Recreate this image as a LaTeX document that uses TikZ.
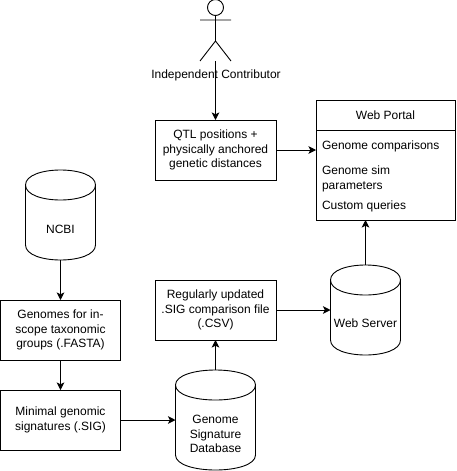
\documentclass[tikz,border=0pt]{standalone}
\usepackage{fontspec}
\setmainfont{Liberation Sans}
\usetikzlibrary{arrows.meta}
\tikzset{
  every node/.style={font=\fontsize{12}{14.4}\selectfont},
  lbl/.style={align=center,inner sep=0pt,outer sep=0pt},
  leftlbl/.style={align=left,inner sep=0pt,outer sep=0pt,anchor=west},
  boxn/.style={draw=black,line width=0.9pt,minimum width=#1,minimum height=60pt,inner sep=0pt,outer sep=0pt,align=center},
  lowered/.style={execute at begin node={\rule{0pt}{12.5pt}}},
  link/.style={line width=0.9pt,-{Stealth[length=7.5pt,width=7.5pt,inset=1.8pt]}},
  stroke/.style={line width=0.9pt,draw=black},
  anchorbox/.style={inner sep=0pt,outer sep=0pt,minimum width=#1},
}
% name, x, y, w, h, text, text centre y
\newcommand{\cylnode}[7]{%
  \draw[stroke] (#2,#3+15) .. controls (#2,#3-5) and (#2+#4,#3-5) .. (#2+#4,#3+15)
     -- (#2+#4,#3+#5-15) .. controls (#2+#4,#3+#5+5) and (#2,#3+#5+5) .. (#2,#3+#5-15) -- cycle;
  \draw[stroke] (#2,#3+15) .. controls (#2,#3+35) and (#2+#4,#3+35) .. (#2+#4,#3+15);
  \node[anchorbox=#4 pt,minimum height=#5 pt] (#1) at (#2+#4/2,#3+#5/2) {};
  \node[lbl] (#1t) at (#2+#4/2,#7) {#6};
}
\begin{document}
\begin{tikzpicture}[x=1pt,y=-1pt]
\useasboundingbox (0,0) rectangle (456,471);
% actor
\node[stroke,draw,circle,minimum size=16pt,inner sep=0pt,outer sep=0pt] (head) at (215.5,7.5) {};
\node[anchorbox=31pt,minimum height=46pt] (actor) at (215.5,38) {};
\coordinate (hip) at (215.5,41);
\coordinate (armL) at (200,20);
\coordinate (armR) at (231,20);
\coordinate (legL) at (200,61);
\coordinate (legR) at (231,61);
\draw[stroke] (head.south) -- (hip) (armL) -- (armR) (legL) -- (hip) -- (legR);
\node[lbl] (actorlabel) at (216,75) {Independent Contributor};
% boxes
\node[boxn=121pt,lowered] (qtl) at (215.5,150) {QTL positions +\\physically anchored\\genetic distances};
\node[boxn=121pt,lowered] (sigfile) at (215.5,310) {Regularly updated\\.SIG comparison file\\(.CSV)};
\node[boxn=120pt,lowered] (genomes) at (60.5,330) {Genomes for in-\\scope taxonomic\\groups (.FASTA)};
\node[boxn=120pt,lowered] (minimal) at (60.5,420) {Minimal genomic\\signatures (.SIG)};
% portal
\node[boxn=139pt,minimum height=120pt] (portal) at (385.5,160) {};
\node[boxn=139pt,minimum height=30pt] (portalhead) at (385.5,115) {Web Portal};
\node[leftlbl] (p1) at (322,146) {Genome comparisons};
\node[leftlbl] (p2) at (322,179) {Genome sim\\parameters};
\node[leftlbl] (p3) at (322,206.5) {Custom queries};
% cylinders
\cylnode{ncbi}{25.5}{170}{70}{90}{NCBI}{229}
\cylnode{sigdb}{175.5}{370}{80}{100}{Genome\\Signature\\Database}{434}
\cylnode{web}{330.5}{265}{70}{90}{Web Server}{323}
% connectors
\draw[link] (actor.south) -- (qtl.north);
\draw[link] (qtl.east) -- (qtl.east -| portal.west);
\draw[link] (ncbi.south) -- (genomes.north);
\draw[link] (genomes.south) -- (minimal.north);
\draw[link] (minimal.east) -- (minimal.east -| sigdb.west);
\draw[link] (sigdb.north) -- (sigfile.south);
\draw[link] (sigfile.east) -- (sigfile.east -| web.west);
\draw[link] (web.north) -- (portal.south -| web.north);
\end{tikzpicture}
\end{document}
